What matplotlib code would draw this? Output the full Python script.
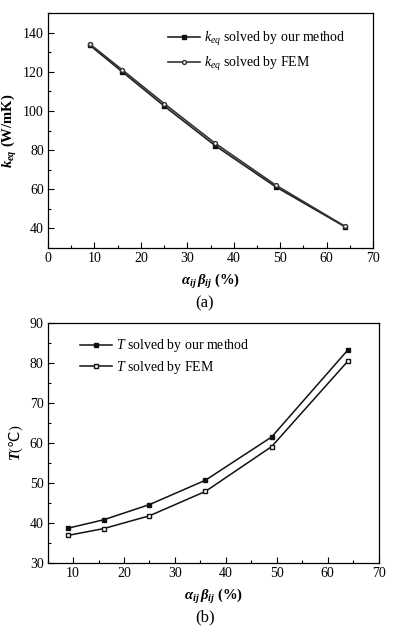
import matplotlib
matplotlib.use("Agg")
import matplotlib.pyplot as plt
from matplotlib.ticker import MultipleLocator

plt.rcParams['font.family'] = ['Liberation Serif', 'DejaVu Sans']
plt.rcParams['mathtext.fontset'] = 'custom'
plt.rcParams['mathtext.rm'] = 'Liberation Serif'
plt.rcParams['mathtext.it'] = 'Liberation Serif:italic'
plt.rcParams['mathtext.bf'] = 'Liberation Serif:bold'
plt.rcParams['mathtext.bfit'] = 'Liberation Serif:bold:italic'
plt.rcParams['mathtext.sf'] = 'DejaVu Sans'

ratio = [9, 16, 25, 36, 49, 64]
keq_ours = [133.6, 120.0, 102.6, 82.3, 61.3, 40.8]
keq_fem = [134.2, 121.0, 103.8, 83.5, 62.2, 41.0]
T_ours = [38.7, 40.8, 44.6, 50.7, 61.5, 83.3]
T_fem = [36.9, 38.6, 41.8, 47.9, 59.1, 80.5]

fig = plt.figure(figsize=(4.10, 6.35), dpi=100)
FS = 10
LFS = 10.5

def style(ax):
    ax.tick_params(which='both', direction='in', top=False, right=False, labelsize=FS, pad=3)
    ax.tick_params(which='major', length=4, width=0.8)
    ax.tick_params(which='minor', length=2.2, width=0.8)
    for s in ax.spines.values():
        s.set_linewidth(0.9)

xlab = r'$\mathbfit{\alpha}_{\mathbfit{ij}}\,\mathbfit{\beta}_{\mathbfit{ij}}$ (%)'

ax1 = fig.add_axes([0.117, 0.6094, 0.793, 0.370])
ax1.plot(ratio, keq_ours, color='#222222', lw=1.2, marker='s', ms=2.6, mfc='#111111', mec='#111111',
         label=r'$k_{eq}$ solved by our method')
ax1.plot(ratio, keq_fem, color='#333333', lw=1.2, marker='o', ms=2.8, mfc='white', mec='#333333',
         label=r'$k_{eq}$ solved by FEM')
ax1.set_xlim(0, 70)
ax1.set_ylim(30, 150)
ax1.xaxis.set_major_locator(MultipleLocator(10))
ax1.xaxis.set_minor_locator(MultipleLocator(5))
ax1.set_yticks([40, 60, 80, 100, 120, 140])
ax1.yaxis.set_minor_locator(MultipleLocator(10))
style(ax1)
ax1.set_ylabel(r'$\mathbfit{k}_{\mathbfit{eq}}$ (W/mK)', fontsize=LFS, fontweight='bold', labelpad=3)
ax1.set_xlabel(xlab, fontsize=LFS, fontweight='bold', labelpad=5)
ax1.legend(loc='upper left', bbox_to_anchor=(0.369, 0.93), frameon=False, fontsize=FS,
           handlelength=2.3, handletextpad=0.3, labelspacing=0.55, borderaxespad=0, borderpad=0)
fig.text(0.5, 1 - 303 / 635, '(a)', ha='center', va='center', fontsize=12)

ax2 = fig.add_axes([0.1163, 0.1134, 0.807, 0.378])
ax2.plot(ratio, T_ours, color='#111111', lw=1.1, marker='s', ms=2.8, mfc='#111111', mec='#111111',
         label=r'$T$ solved by our method')
ax2.plot(ratio, T_fem, color='#111111', lw=1.1, marker='s', ms=2.8, mfc='white', mec='#111111',
         label=r'$T$ solved by FEM')
ax2.set_xlim(5, 70)
ax2.set_ylim(30, 90)
ax2.set_xticks([10, 20, 30, 40, 50, 60, 70])
ax2.xaxis.set_minor_locator(MultipleLocator(5))
ax2.yaxis.set_major_locator(MultipleLocator(10))
ax2.yaxis.set_minor_locator(MultipleLocator(5))
style(ax2)
ax2.set_ylabel(r'$\mathbfit{T}$($\mathsf{℃}$)', fontsize=LFS, labelpad=3)
ax2.set_xlabel(xlab, fontsize=LFS, fontweight='bold', labelpad=5)
ax2.legend(loc='upper left', bbox_to_anchor=(0.0976, 0.94), frameon=False, fontsize=FS,
           handlelength=2.3, handletextpad=0.3, labelspacing=0.3, borderaxespad=0, borderpad=0)
fig.text(0.5, 1 - 617 / 635, '(b)', ha='center', va='center', fontsize=12)

fig.savefig('out.png', dpi=100)
